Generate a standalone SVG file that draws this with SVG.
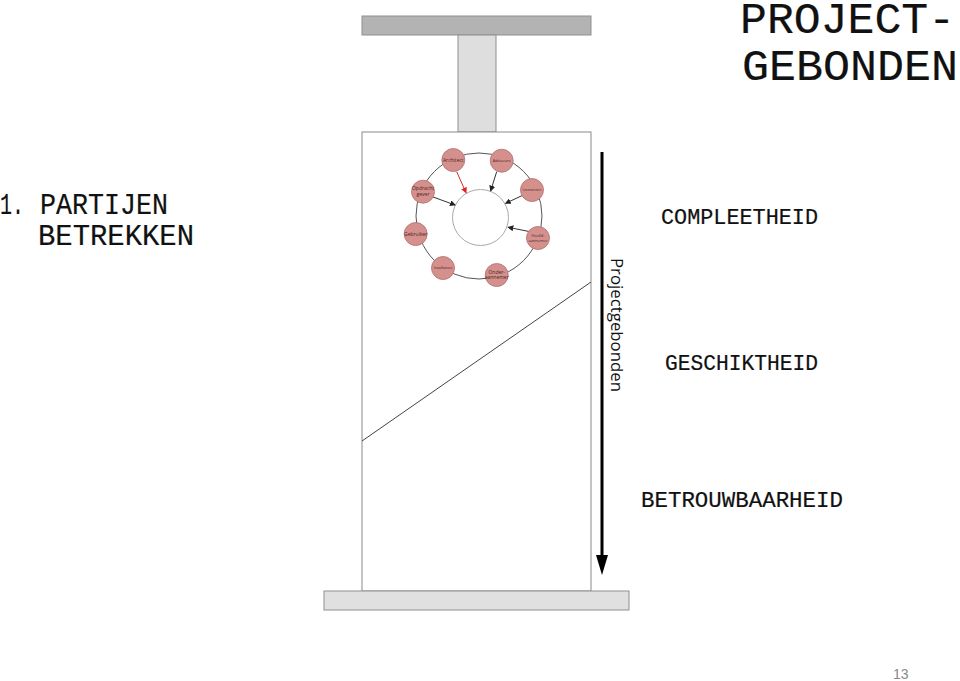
<svg xmlns="http://www.w3.org/2000/svg" width="960" height="681" viewBox="0 0 960 681">
<defs>
<style>
.mono{font-family:"Liberation Mono","Courier New",monospace;fill:#111;stroke:#111;stroke-width:0.2;}
.node circle{fill:#d4908c;stroke:#b07070;stroke-width:0.8;}
.node text{font-family:"Open Sans","Liberation Sans",sans-serif;font-size:5px;fill:#4a1f1f;text-anchor:middle;}
.conn line{stroke:#333;stroke-width:1;}
</style>
<marker id="ah" markerWidth="6" markerHeight="6" refX="5" refY="3" orient="auto" markerUnits="strokeWidth"><path d="M0,0 L6,3 L0,6 z" fill="#222"/></marker>
<marker id="ahr" markerWidth="6" markerHeight="6" refX="5" refY="3" orient="auto" markerUnits="strokeWidth"><path d="M0,0 L6,3 L0,6 z" fill="#e02020"/></marker>
</defs>
<rect width="960" height="681" fill="#fff"/>

<g id="press">
<rect x="362" y="16" width="229" height="19" fill="#b3b3b3" stroke="#8f8f8f" stroke-width="1"/>
<rect x="458" y="35" width="38" height="97" fill="#dedede" stroke="#8f8f8f" stroke-width="1"/>
<rect x="362" y="132" width="229" height="459" fill="#fff" stroke="#8a8a8a" stroke-width="1"/>
<rect x="324" y="591" width="305" height="19" fill="#e0e0e0" stroke="#8f8f8f" stroke-width="1"/>
<line x1="362" y1="441" x2="591" y2="282" stroke="#444" stroke-width="1"/>
</g>

<g id="cycle">
<circle cx="479" cy="216" r="63" fill="none" stroke="#555" stroke-width="1"/>
<circle cx="480.5" cy="217.5" r="28" fill="#fff" stroke="#aaa" stroke-width="1"/>
</g>

<g class="conn" id="connectors">
<line x1="456.7" y1="171.7" x2="466" y2="192.7" style="stroke:#d03030" marker-end="url(#ahr)"/>
<line x1="496.7" y1="171.7" x2="490.7" y2="190.7" marker-end="url(#ah)"/>
<line x1="523.3" y1="195" x2="505.7" y2="203.3" marker-end="url(#ah)"/>
<line x1="432.3" y1="196.7" x2="455" y2="205" marker-end="url(#ah)"/>
<line x1="530" y1="231.7" x2="508.3" y2="227.3" marker-end="url(#ah)"/>
</g>

<g class="node" id="n-architect"><circle cx="453.3" cy="160" r="11.5"/><text x="453.3" y="161.8">Architect</text></g>
<g class="node" id="n-adviseurs"><circle cx="501.7" cy="160.7" r="11.5"/><text x="501.7" y="162.3" style="font-size:4px">Adviseurs</text></g>
<g class="node" id="n-leveranciers"><circle cx="532" cy="190" r="11.5"/><text x="532" y="191.3" style="font-size:3.2px">Leveranciers</text></g>
<g class="node" id="n-hoofd"><circle cx="538" cy="238" r="11.5"/><text x="538" y="236.5" style="font-size:4px">Hoofd-</text><text x="538" y="241.5" style="font-size:4px">aannemer</text></g>
<g class="node" id="n-onder"><circle cx="496.7" cy="275" r="11.5"/><text x="496.7" y="273.5">Onder-</text><text x="496.7" y="279">aannemer</text></g>
<g class="node" id="n-installateur"><circle cx="443" cy="268" r="11.5"/><text x="443" y="269.2" style="font-size:3.2px">Installateurs</text></g>
<g class="node" id="n-gebruiker"><circle cx="415.7" cy="234" r="11.5"/><text x="415.7" y="235.8">Gebruiker</text></g>
<g class="node" id="n-opdracht"><circle cx="423" cy="191.7" r="11.5"/><text x="423" y="190">Opdracht</text><text x="423" y="195.5">gever</text></g>

<g id="axis">
<line x1="602" y1="152" x2="602" y2="557" stroke="#000" stroke-width="3"/>
<polygon points="596,555 608,555 602,575" fill="#000"/>
<text transform="translate(611,258) rotate(90)" font-family="'Open Sans','Noto Sans',sans-serif" font-size="17" fill="#111" textLength="134" lengthAdjust="spacingAndGlyphs">Projectgebonden</text>
</g>

<g id="titles">
<text class="mono" x="740" y="33" font-size="44" textLength="215" lengthAdjust="spacingAndGlyphs">PROJECT-</text>
<text class="mono" x="742" y="80" font-size="44" textLength="216" lengthAdjust="spacingAndGlyphs">GEBONDEN</text>
<text class="mono" x="0" y="214" font-size="29" textLength="24" lengthAdjust="spacingAndGlyphs">1.</text>
<text class="mono" x="40" y="214" font-size="29" textLength="128" lengthAdjust="spacingAndGlyphs">PARTIJEN</text>
<text class="mono" x="38" y="245" font-size="29" textLength="156" lengthAdjust="spacingAndGlyphs">BETREKKEN</text>
<text class="mono" x="661" y="223.5" font-size="22.5" textLength="157" lengthAdjust="spacingAndGlyphs">COMPLEETHEID</text>
<text class="mono" x="665" y="370" font-size="22.5" textLength="153" lengthAdjust="spacingAndGlyphs">GESCHIKTHEID</text>
<text class="mono" x="641" y="507" font-size="22.5" textLength="202" lengthAdjust="spacingAndGlyphs">BETROUWBAARHEID</text>
<text x="893" y="679" font-family="'Liberation Sans',Arial,sans-serif" font-size="14" fill="#8a8a8a">13</text>
</g>
</svg>
